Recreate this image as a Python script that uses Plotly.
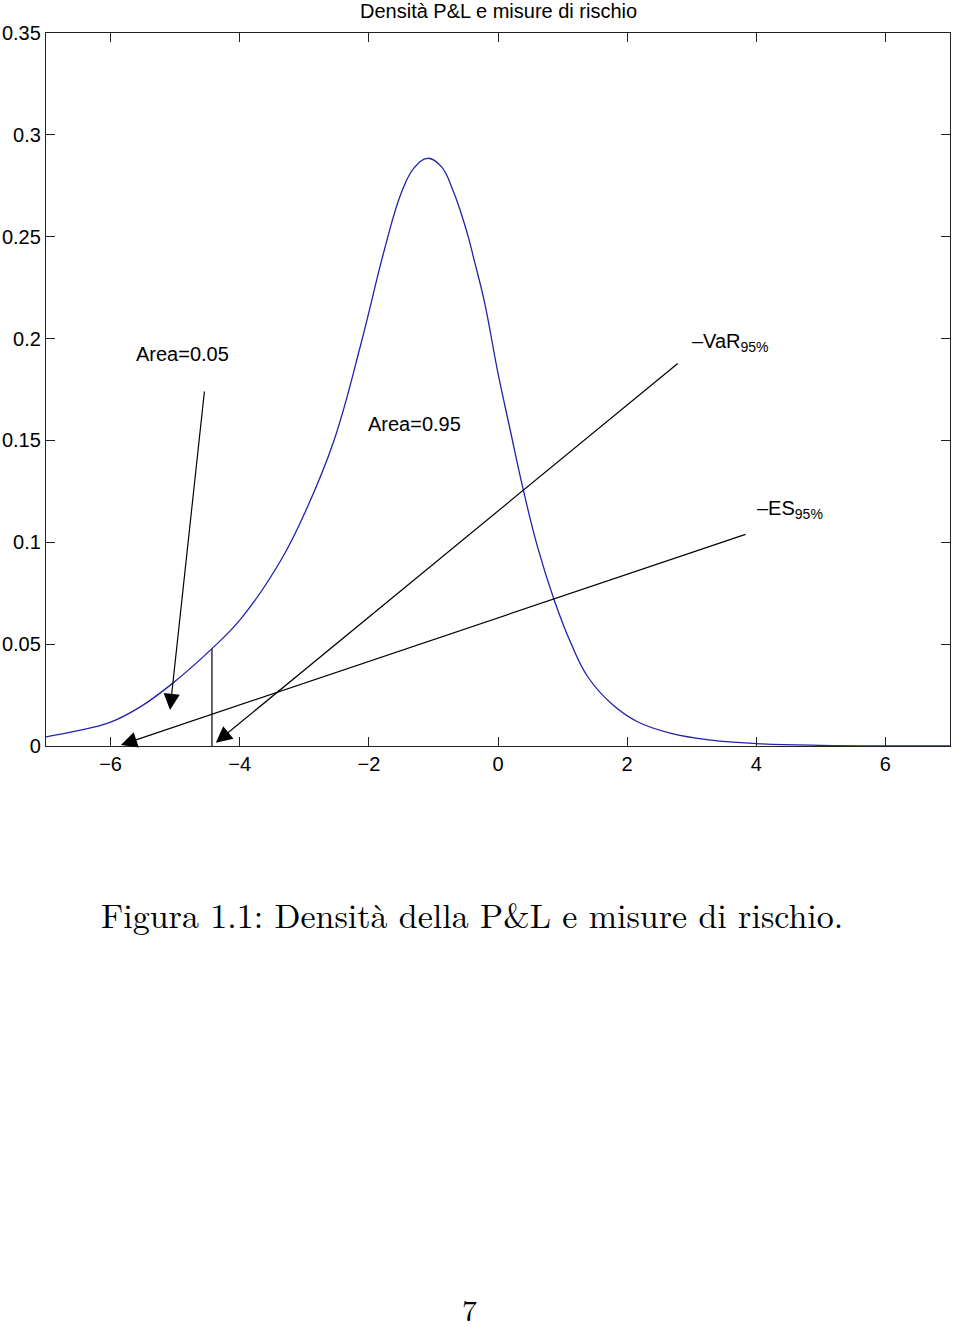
import plotly.graph_objects as go

# ---- data ----
pl_x = [-7.0, -6.58, -6.0, -5.54, -5.05, -4.43, -3.98, -3.36, -2.97, -2.54, -2.12,
        -1.76, -1.50, -1.30, -1.09, -0.88, -0.68, -0.47, -0.37, -0.21, 0.0, 0.19,
        0.39, 0.61, 0.87, 1.13, 1.39, 1.75, 2.16, 2.68, 3.30, 4.0, 5.0, 6.0, 7.0]
density = [0.0045, 0.0070, 0.0117, 0.0192, 0.0305, 0.0478, 0.0625, 0.0913, 0.116,
           0.150, 0.1977, 0.2435, 0.2713, 0.2838, 0.2885, 0.2845, 0.2713, 0.2510,
           0.2386, 0.218, 0.183, 0.155, 0.126, 0.098, 0.0717, 0.0504, 0.034, 0.021,
           0.0119, 0.0062, 0.0029, 0.0012, 0.0003, 0.0, 0.0]

var_x = -4.43          # -VaR 95%
var_density = 0.0478
es_x = -5.84           # -ES 95%

x_ticks = [-6, -4, -2, 0, 2, 4, 6]
x_tick_text = ["\u22126", "\u22124", "\u22122", "0", "2", "4", "6"]
y_ticks = [0, 0.05, 0.1, 0.15, 0.2, 0.25, 0.3, 0.35]
y_tick_text = ["0", "0.05", "0.1", "0.15", "0.2", "0.25", "0.3", "0.35"]

title_text = "Densità P&L e misure di rischio"
caption_text = "Figura 1.1: Densità della P&L e misure di rischio."
page_number = "7"

# label texts, anchor points and arrow tails (data units)
labels = [
    ("Area=0.05", -5.63, 0.1925),
    ("Area=0.95", -2.05, 0.158),
    ("\u2013VaR<sub>95%</sub>", 2.98, 0.198),
    ("\u2013ES<sub>95%</sub>", 3.98, 0.116),
]
arrows = [  # (tail_x, tail_y, head_x, head_y)
    (-4.53, 0.1789, -5.08, 0.0177),
    (2.83, 0.189, var_x + 0.06, 0.0016),
    (3.88, 0.1044, es_x, 0.0005),
]

FONT = "Liberation Sans, Arial, Helvetica, sans-serif"
SERIF = "Latin Modern Roman, CMU Serif, DejaVu Serif, Liberation Serif, serif"

fig = go.Figure()
fig.add_trace(go.Scatter(x=pl_x, y=density, mode="lines",
                         line=dict(color="#2222aa", width=1.3, shape="spline", smoothing=1.15),
                         hoverinfo="skip", showlegend=False))
fig.add_trace(go.Scatter(x=[var_x, var_x], y=[0, var_density], mode="lines",
                         line=dict(color="#333333", width=1.5),
                         hoverinfo="skip", showlegend=False))

annotations = []
for txt, lx, ly in labels:
    annotations.append(dict(x=lx, y=ly, xref="x", yref="y", text=txt, showarrow=False,
                            xanchor="left", yanchor="middle",
                            font=dict(family=FONT, size=20, color="black")))
for tx, ty, hx, hy in arrows:
    annotations.append(dict(x=hx, y=hy, xref="x", yref="y", ax=tx, ay=ty,
                            axref="x", ayref="y", text=" ", showarrow=True,
                            arrowhead=2, arrowsize=2.7, arrowwidth=1.2,
                            arrowcolor="black", standoff=0, startstandoff=0))
annotations.append(dict(x=0.5, y=1, xref="paper", yref="paper", text=title_text,
                        showarrow=False, xanchor="center", yanchor="bottom", yshift=9,
                        font=dict(family=FONT, size=20, color="black")))
annotations.append(dict(x=0.471, y=(746 - 914) / 713, xref="paper", yref="paper",
                        text=caption_text, showarrow=False, xanchor="center",
                        yanchor="middle", font=dict(family=SERIF, size=34, color="black")))
annotations.append(dict(x=0.469, y=(746 - 1308) / 713, xref="paper", yref="paper",
                        text=page_number, showarrow=False, xanchor="center",
                        yanchor="middle", font=dict(family=SERIF, size=30, color="black")))

axis_common = dict(showline=True, linecolor="#222222", linewidth=1.3, mirror="ticks",
                   ticks="inside", ticklen=9, tickwidth=1.2, tickcolor="#222222",
                   showgrid=False, zeroline=False, automargin=False,
                   tickfont=dict(family=FONT, size=20, color="black"))

fig.update_layout(
    width=960, height=1327,
    margin=dict(l=46, r=10, t=33, b=581),
    paper_bgcolor="white", plot_bgcolor="white",
    xaxis=dict(range=[-7, 7], tickvals=x_ticks, ticktext=x_tick_text, **axis_common),
    yaxis=dict(range=[0, 0.35], tickvals=y_ticks, ticktext=y_tick_text,
               ticklabelstandoff=0, **axis_common),
    annotations=annotations,
    showlegend=False,
)

fig.write_html("out.html")
